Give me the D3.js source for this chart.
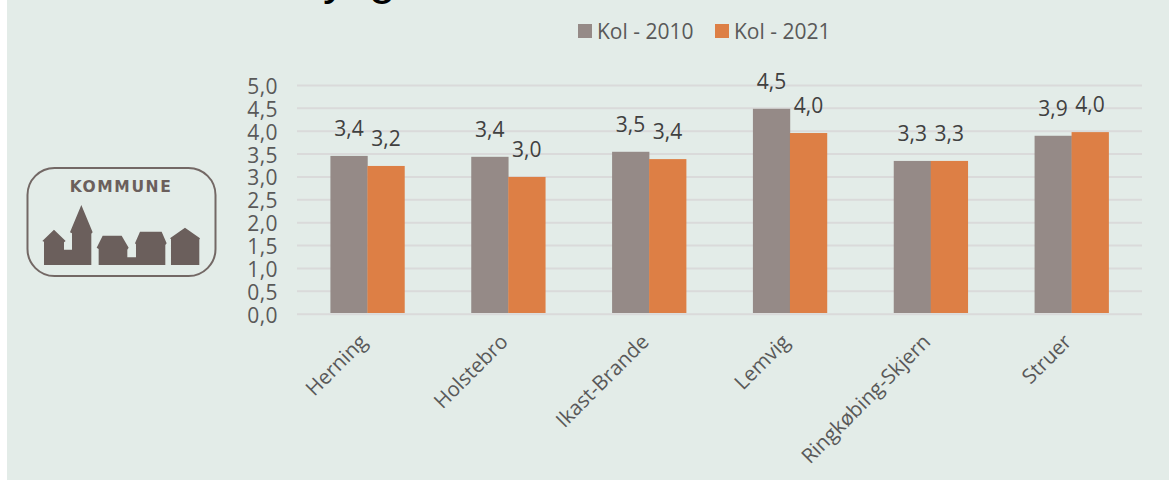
<!DOCTYPE html>
<html><head><meta charset="utf-8">
<script src="https://cdn.jsdelivr.net/npm/d3@7"></script>
<style>html,body{margin:0;padding:0;background:#fff;overflow:hidden}svg{display:block}text{font-family:"Open Sans",sans-serif}</style>
</head><body><svg id="c" width="1169" height="480"></svg>
<script>
const categories = ["Herning","Holstebro","Ikast-Brande","Lemvig","Ringkøbing-Skjern","Struer"];
const seriesNames = ["Kol - 2010","Kol - 2021"];
const kol2010 = [3.45,3.43,3.54,4.48,3.34,3.89];
const kol2021 = [3.23,2.99,3.38,3.95,3.34,3.97];
const labels2010 = ["3,4","3,4","3,5","4,5","3,3","3,9"];
const labels2021 = ["3,2","3,0","3,4","4,0","3,3","4,0"];
const yTicks = [0,0.5,1,1.5,2,2.5,3,3.5,4,4.5,5];
const colors = ["#958a87","#dd7f45"];

const svg = d3.select("#c");
svg.append("rect").attr("x",7).attr("y",0).attr("width",1162).attr("height",480).attr("fill","#e3ece8");

const x0 = d3.scaleBand().domain(categories).range([297,1142]);
const x1 = d3.scaleBand().domain(seriesNames).range([0,x0.bandwidth()]).paddingInner(0).paddingOuter(0.903);
const y = d3.scaleLinear().domain([0,5]).range([313.7,85]);
const fmt = d => d3.format(".1f")(d).replace(".",",");

const yAxis = svg.append("g").attr("transform","translate(297,0)")
  .call(d3.axisLeft(y).tickValues(yTicks).tickFormat(fmt).tickSize(-845).tickPadding(19));
yAxis.select(".domain").remove();
yAxis.selectAll("line").attr("stroke","#dadada").attr("stroke-width",2);
yAxis.selectAll("text").attr("fill","#595959").attr("dy","0.4em").style("font-size","21px").style("letter-spacing","0.4px");

const xAxis = svg.append("g").attr("transform","translate(0,314)")
  .call(d3.axisBottom(x0).tickSize(0));
xAxis.select(".domain").remove();
xAxis.selectAll("text").attr("fill","#595959").style("font-size","20.5px")
  .attr("text-anchor","end").attr("dy",0).attr("y",0)
  .attr("transform","translate(1,29) rotate(-45)");

const rows = categories.map((c,i)=>({c,vals:[kol2010[i],kol2021[i]],labs:[labels2010[i],labels2021[i]]}));
const groups = svg.append("g").selectAll("g").data(rows).join("g")
  .attr("transform",d=>`translate(${x0(d.c)},0)`);
groups.selectAll("rect").data(d=>d.vals).join("rect")
  .attr("x",(d,i)=>x1(seriesNames[i])).attr("width",x1.bandwidth()+0.3)
  .attr("y",d=>y(d)).attr("height",d=>313-y(d)).attr("fill",(d,i)=>colors[i]);
groups.selectAll("text").data(d=>d.vals.map((v,i)=>({v,i,l:d.labs[i]}))).join("text")
  .attr("x",d=>x1(seriesNames[d.i])+x1.bandwidth()/2).attr("y",d=>y(d.v)-27.5)
  .attr("dy","0.36em").attr("text-anchor","middle").attr("fill","#404040")
  .style("font-size","21px").text(d=>d.l);

const legendX = [578,715];
seriesNames.forEach((s,i)=>{
  svg.append("rect").attr("x",legendX[i]).attr("y",24).attr("width",14).attr("height",14).attr("fill",colors[i]);
  svg.append("text").attr("x",legendX[i]+19).attr("y",39).attr("fill","#595959").style("font-size","21px").text(s);
});

// clipped title fragment
svg.append("text").attr("x",323).attr("y",-6).attr("fill","#000").style("font-size","48px").style("font-family","Liberation Sans").text("y");
svg.append("text").attr("x",369).attr("y",-6).attr("fill","#000").style("font-size","48px").style("font-family","Liberation Sans").text("g");

// logo
const logo = svg.append("g");
logo.append("rect").attr("x",27.5).attr("y",168).attr("width",188).attr("height",108).attr("rx",27)
  .attr("fill","none").attr("stroke","#736865").attr("stroke-width",2);
logo.append("text").attr("x",121).attr("y",191.5).attr("text-anchor","middle").attr("fill","#6b5f5c")
  .style("font-family","DejaVu Sans").style("font-weight","700").style("font-size","15.5px").style("letter-spacing","1.6px").text("KOMMUNE");
logo.append("path").attr("transform","translate(10,155) scale(0.3333)").attr("fill","#6b5f5c")
  .attr("d","M102 330V260L97 258L132 224L167 258L162 262V284H186V235L180 232L214 150L248 232L244 236V330Z M266 330V282L260 278L278 242H335L356 278L352 284V307H378V268L375 265L390 230H455L470 265L466 270V330Z M483 330V252L480 250L525 218L570 250L568 254V330Z");
</script></body></html>
